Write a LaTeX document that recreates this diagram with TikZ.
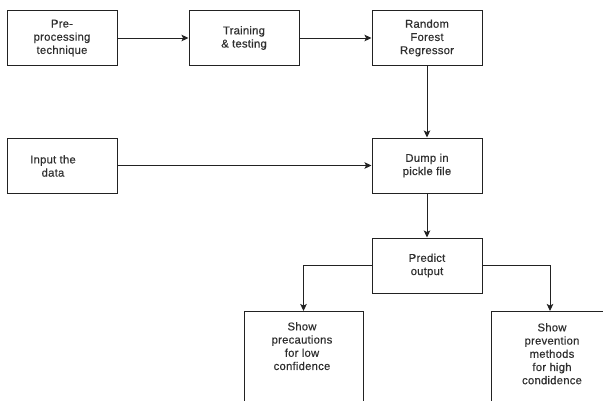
\documentclass[tikz,border=0pt]{standalone}
\usepackage{fontspec}
\setmainfont{Liberation Sans}
\newfontfamily\boxfont[FakeBold=0.35, LetterSpace=2]{Liberation Sans}
\usetikzlibrary{arrows.meta}
\definecolor{txtgray}{HTML}{2E2E2E}
\definecolor{linegray}{HTML}{222222}
\tikzset{
  box/.style={draw=linegray, line width=1pt, minimum width=110pt, minimum height=55pt, inner sep=0pt, text=txtgray, align=center, font=\boxfont\fontsize{11.3}{13.2}\selectfont},
  tallbox/.style={draw=linegray, line width=1pt, minimum height=130pt, inner sep=0pt, anchor=north},
  label/.style={text=txtgray, align=center, inner sep=0pt, font=\boxfont\fontsize{11.3}{13.2}\selectfont},
  conn/.style={draw=linegray, line width=1pt, -{Stealth[length=7pt,width=6.5pt,inset=1.5pt]}}
}
\begin{document}
\begin{tikzpicture}[x=1pt,y=-1pt]
\useasboundingbox (0,0) rectangle (603,400);
\clip (0,0) rectangle (603,400);
\node[box] (pre) at (62,38) {Pre-\\processing\\technique};
\node[box] (train) at (244,38) {Training\\\& testing};
\node[box] (rf) at (427,38) {Random\\Forest\\Regressor};
\node[box] (input) at (62,165.5) {};
\node[label] (inputtxt) at (53,166) {Input the\\data};
\node[box] (dump) at (427,165.5) {Dump in\\pickle file};
\node[box] (predict) at (427,265.5) {Predict\\output};
\node[tallbox, minimum width=119pt] (low) at (303.5,311) {};
\node[label, anchor=north] (lowtxt) at (302,322) {Show\\precautions\\for low\\confidence};
\node[tallbox, minimum width=122pt] (high) at (552,311) {};
\node[label, anchor=north] (hightxt) at (552,323) {Show\\prevention\\methods\\for high\\condidence};
\draw[conn] (pre) -- (train);
\draw[conn] (train) -- (rf);
\draw[conn] (rf) -- (dump);
\draw[conn] (input) -- (dump);
\draw[conn] (dump) -- (predict);
\draw[conn] (predict.west) -| (low.north);
\draw[conn] (predict.east) -| ([xshift=-2pt]high.north);
\end{tikzpicture}
\end{document}
